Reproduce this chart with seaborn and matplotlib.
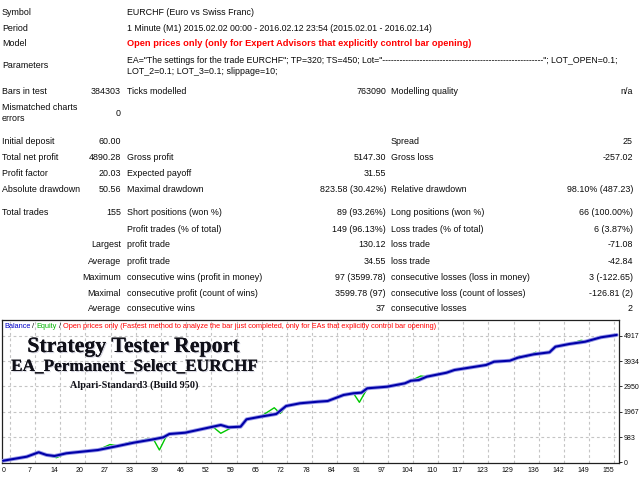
import numpy as np
import seaborn as sns
import matplotlib.pyplot as plt
import matplotlib.patheffects as pe

# ---- report header ----
header_names = ["Symbol", "Period", "Model", "Parameters"]
symbol_text = "EURCHF (Euro vs Swiss Franc)"
period_text = "1 Minute (M1) 2015.02.02 00:00 - 2016.02.12 23:54 (2015.02.01 - 2016.02.14)"
model_text = "Open prices only (only for Expert Advisors that explicitly control bar opening)"
param_lines = [
    'EA="The settings for the trade EURCHF"; TP=320; TS=450; Lot="'
    '--------------------------------------------------------"; LOT_OPEN=0.1;',
    "LOT_2=0.1; LOT_3=0.1; slippage=10;",
]

# ---- report table (label, value, label, value, label, value) ----
stat_rows = [
    ("Bars in test", "384303", "Ticks modelled", "763090", "Modelling quality", "n/a"),
    ("Mismatched charts\nerrors", "0", "", "", "", ""),
    ("Initial deposit", "60.00", "", "", "Spread", "25"),
    ("Total net profit", "4890.28", "Gross profit", "5147.30", "Gross loss", "-257.02"),
    ("Profit factor", "20.03", "Expected payoff", "31.55", "", ""),
    ("Absolute drawdown", "50.56", "Maximal drawdown", "823.58 (30.42%)",
     "Relative drawdown", "98.10% (487.23)"),
    ("Total trades", "155", "Short positions (won %)", "89 (93.26%)",
     "Long positions (won %)", "66 (100.00%)"),
    ("", "", "Profit trades (% of total)", "149 (96.13%)",
     "Loss trades (% of total)", "6 (3.87%)"),
    ("", "Largest", "profit trade", "130.12", "loss trade", "-71.08"),
    ("", "Average", "profit trade", "34.55", "loss trade", "-42.84"),
    ("", "Maximum", "consecutive wins (profit in money)", "97 (3599.78)",
     "consecutive losses (loss in money)", "3 (-122.65)"),
    ("", "Maximal", "consecutive profit (count of wins)", "3599.78 (97)",
     "consecutive loss (count of losses)", "-126.81 (2)"),
    ("", "Average", "consecutive wins", "37", "consecutive losses", "2"),
]

# ---- balance / equity curve ----
balance_trade = [0, 6, 9, 11, 13, 16, 24, 29, 33, 38, 40.5, 42, 46, 50, 55, 57, 60, 61.5,
                 65, 69, 71.5, 75, 79.5, 82, 86, 88.5, 90.5, 92, 97, 101.5, 103, 105, 107,
                 112, 114, 122, 124, 128, 130, 134, 138, 139.5, 143, 147, 151, 155]
balance = [60, 218, 389, 284, 245, 350, 478, 633, 762, 894, 972, 1100, 1150, 1283, 1450,
           1360, 1384, 1671, 1772, 1877, 2188, 2293, 2355, 2382, 2616, 2682, 2705, 2876,
           2938, 3070, 3171, 3197, 3327, 3482, 3587, 3782, 3910, 3949, 4065, 4197, 4275,
           4493, 4598, 4687, 4858, 4950]

equity_trade = [0, 6, 9, 11, 13.5, 16, 24, 27, 29, 32, 33, 36, 38, 39.5, 41, 42, 46, 50,
                53, 55, 57.5, 60, 61.5, 65, 68.5, 70, 71.5, 75, 76, 79.5, 82, 86, 88.5,
                90, 92, 97, 101.5, 103, 105.5, 107, 112, 113, 114, 122, 124, 128, 130.5,
                132, 134.5, 136, 138, 139.5, 143, 146, 148, 151, 155]
equity = [60, 230, 380, 280, 180, 350, 480, 690, 640, 780, 760, 890, 894, 478, 940, 1100,
          1150, 1283, 1380, 1127, 1330, 1384, 1690, 1772, 2120, 1900, 2188, 2293, 2340,
          2355, 2382, 2616, 2682, 2332, 2876, 2938, 3070, 3171, 3354, 3327, 3482, 3560,
          3587, 3782, 3910, 3949, 4130, 4080, 4275, 4210, 4275, 4493, 4598, 4740, 4687,
          4858, 4950]

x_tick_labels = ["0", "7", "14", "20", "27", "33", "39", "46", "52", "59", "65", "72", "78",
                 "84", "91", "97", "104", "110", "117", "123", "129", "136", "142", "149", "155"]
y_ticks = [0, 983, 1967, 2950, 3934, 4917]

sns.set_theme(style="white")
plt.rcParams['font.family'] = ['Liberation Sans', 'DejaVu Sans']

W, H = 640, 480
fig = plt.figure(figsize=(6.4, 4.8), dpi=100)
renderer = fig.canvas.get_renderer()
ink = '#0a0a0a'
base = 6.4


def put(x, y, s, ha='left', size=base, width=None, **kw):
    kw.setdefault('color', ink)
    t = fig.text(x / W, 1 - y / H, s, ha=ha, va='center', fontsize=size, **kw)
    if width:
        w = t.get_window_extent(renderer).width
        t.set_fontsize(size * width / w)
    return t


def draw_pieces(x, y, pieces, size, width=None):
    texts, cur = [], x
    for s, c in pieces:
        t = fig.text(cur / W, 1 - y / H, s, color=c, fontsize=size, va='center')
        cur += t.get_window_extent(renderer).width
        texts.append(t)
    if width and abs(cur - x - width) > 1:
        for t in texts:
            t.remove()
        draw_pieces(x, y, pieces, size * width / (cur - x))


# header block
col_l1, col_v1, col_l2, col_v2, col_l3, col_v3 = 2, 121, 127, 386, 391, 633
for name, yy in zip(header_names, [12.7, 28.3, 44, 65]):
    put(col_l1, yy, name)
put(col_l2, 12.7, symbol_text)
put(col_l2, 28.3, period_text, width=309)
put(col_l2, 44, model_text, width=347, color='#ff0000', fontweight='bold')
put(col_l2, 60.7, param_lines[0], width=497)
put(col_l2, 71, param_lines[1])

# statistics block
row_y = [92, 113, 141.7, 157.5, 174, 190, 212.7, 229.3, 245, 262, 277, 293, 308.5]
for row, yy in zip(stat_rows, row_y):
    l1, v1, l2, v2, l3, v3 = row
    put(col_l1, yy, l1, linespacing=1.2)
    put(col_v1, yy, v1, ha='right')
    put(col_l2, yy, l2)
    put(col_v2, yy, v2, ha='right')
    put(col_l3, yy, l3)
    put(col_v3, yy, v3, ha='right')

# ---- chart ----
px_trade = 3.96      # pixels per trade
px_value = 0.02573   # pixels per money unit
ax = fig.add_axes([2 / W, 17 / H, 617 / W, 143 / H])
ax.set_xlim(-1 / px_trade, 616 / px_trade)
ax.set_ylim(-0.7 / px_value, 142.3 / px_value)

tick_pos = np.linspace(0.25, 152.9, len(x_tick_labels))
for gx in tick_pos + 1.5:
    ax.axvline(gx, color='#c4c4c4', lw=0.8, ls=(0, (2.5, 2.5)), zorder=0)
for gy in y_ticks[1:]:
    ax.axhline(gy, color='#c4c4c4', lw=0.8, ls=(0, (2.5, 2.5)), zorder=0)

sns.lineplot(x=equity_trade, y=equity, ax=ax, color='#00c800', linewidth=1.0, zorder=2)
sns.lineplot(x=balance_trade, y=balance, ax=ax, color='#0000a8', linewidth=1.5, zorder=3,
             path_effects=[pe.Stroke(linewidth=2.8, foreground='#9898e8'), pe.Normal()])

ax.set_xticks(tick_pos)
ax.set_xticklabels(x_tick_labels)
ax.yaxis.tick_right()
ax.set_yticks(y_ticks)
ax.set_yticklabels([str(v) for v in y_ticks])
ax.tick_params(axis='x', length=0, pad=3.0, labelsize=5.0, colors=ink)
ax.tick_params(axis='y', right=True, length=2, width=0.6, pad=1.5, labelsize=5.0, colors=ink)
ax.set_xlabel('')
ax.set_ylabel('')
for side in ['left', 'top', 'right', 'bottom']:
    ax.spines[side].set_visible(True)
    ax.spines[side].set_color('#202020')
    ax.spines[side].set_linewidth(0.9)

draw_pieces(4, 327, [("Balance", '#0000c8'), (" / ", ink), ("Equity", '#00b400'),
                     (" / ", ink),
                     ("Open prices only (Fastest method to analyze the bar just completed, "
                      "only for EAs that explicitly control bar opening)", '#ff0000')],
            base, width=444)

shadow = [pe.withSimplePatchShadow(offset=(0.8, -0.8), shadow_rgbFace='#8080a0', alpha=0.35),
          pe.Normal()]
put(133.5, 347, "Strategy Tester Report", ha='center', size=14, width=213,
    family='Liberation Serif', fontweight='bold', color='#101018', path_effects=shadow)
put(135, 367, "EA_Permanent_Select_EURCHF", ha='center', size=12, width=246,
    family='Liberation Serif', fontweight='bold', color='#101018', path_effects=shadow)
put(134, 385, "Alpari-Standard3 (Build 950)", ha='center', size=7, width=128,
    family='Liberation Serif', fontweight='bold', color='#101018')

fig.savefig('out.png', dpi=100)
